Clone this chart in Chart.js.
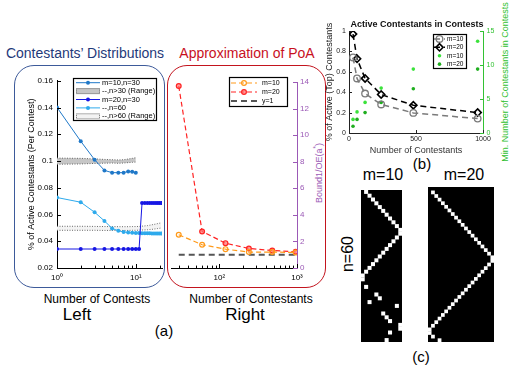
<!DOCTYPE html>
<html>
<head>
<meta charset="utf-8">
<script src="https://cdn.jsdelivr.net/npm/chart.js@4.4.1/dist/chart.umd.min.js"></script>
<style>
  body { margin: 0; background: #fff; }
  #fig { position: relative; width: 510px; height: 368px; overflow: hidden; font-family: "Liberation Sans", Arial, sans-serif; }
  #fig canvas { position: absolute; }
  .txt { position: absolute; white-space: nowrap; line-height: 1; transform: translate(-50%, -50%); }
  .rot { transform: translate(-50%, -50%) rotate(-90deg); }
  .frame { position: absolute; box-sizing: border-box; border: 1.5px solid; border-radius: 20px; }
  sup { font-size: 70%; }
</style>
</head>
<body>
<div id="fig">
  <div class="frame" style="left:14px;top:65px;width:151px;height:223px;border-color:#3d5a9a;"></div>
  <div class="frame" style="left:167px;top:65px;width:159px;height:223px;border-color:#c3141e;"></div>

  <div class="txt" style="left:85px;top:53px;font-size:14px;color:#1f3a7a;">Contestants’ Distributions</div>
  <div class="txt" style="left:247px;top:53px;font-size:14px;color:#c8101e;">Approximation of PoA</div>
  <div class="txt" style="left:97px;top:299px;font-size:12px;">Number of Contests</div>
  <div class="txt" style="left:77px;top:314px;font-size:17px;">Left</div>
  <div class="txt" style="left:164px;top:330px;font-size:15px;">(a)</div>
  <div class="txt" style="left:251px;top:299px;font-size:12px;">Number of Contestants</div>
  <div class="txt" style="left:245px;top:314px;font-size:17px;">Right</div>
  <div class="txt rot" style="left:318px;top:173px;font-size:9px;color:#9b59b6;">Bound1/OE(a<sup>*</sup>)</div>
  <div class="txt rot" style="left:505px;top:82px;font-size:9px;color:#2fbf2f;">Min. Number of Contestants in Contests</div>
  <div class="txt" style="left:422px;top:163px;font-size:15px;">(b)</div>
  <div class="txt" style="left:383px;top:175px;font-size:16px;">m=10</div>
  <div class="txt" style="left:464px;top:175px;font-size:16px;">m=20</div>
  <div class="txt rot" style="left:348px;top:254px;font-size:16px;">n=60</div>
  <div class="txt" style="left:421px;top:356px;font-size:15px;">(c)</div>

  <canvas id="left" width="146" height="216" style="left:20px;top:72px;"></canvas>
  <canvas id="right" width="160" height="216" style="left:166px;top:72px;"></canvas>
  <canvas id="active" width="186" height="148" style="left:324px;top:12px;"></canvas>
  <canvas id="heat10" width="49" height="160" style="left:357px;top:186px;"></canvas>
  <canvas id="heat20" width="74" height="163" style="left:424px;top:183px;"></canvas>
</div>
<script>
// (a) left: share of active contestants per contest
const contests = [1, 2, 3, 4, 5, 6, 7, 8, 9, 10, 11, 12, 13, 14, 15, 16, 17, 18, 19, 20, 21];
const m10n30 = [0.1401, 0.1148, 0.1010, 0.0930, 0.0913, 0.0913, 0.0913, 0.0922, 0.0920, 0.0913];
const n30RangeHi = [0.1022, 0.1020, 0.1016, 0.1012, 0.1010, 0.1008, 0.1010, 0.1015, 0.1020, 0.1025];
const n30RangeLo = [0.0976, 0.0978, 0.0982, 0.0984, 0.0985, 0.0983, 0.0985, 0.0988, 0.0990, 0.0992];
const m20n30 = [0.0342, 0.0342, 0.0342, 0.0342, 0.0342, 0.0342, 0.0342, 0.0342, 0.0342, 0.0342, 0.0342,
                0.0686, 0.0686, 0.0686, 0.0686, 0.0686, 0.0686, 0.0686, 0.0686, 0.0686, 0.0686];
const m10n60 = [0.0727, 0.0692, 0.0617, 0.0552, 0.0496, 0.0478, 0.0470, 0.0465, 0.0463, 0.0462, 0.0461,
                0.0460, 0.0460, 0.0459, 0.0459, 0.0458, 0.0458, 0.0458, 0.0458, 0.0458, 0.0458];
const n60RangeHi = [0.0512, 0.0512, 0.0511, 0.0510, 0.0510, 0.0509, 0.0509, 0.0509, 0.0510, 0.0510, 0.0511,
                    0.0513, 0.0515, 0.0517, 0.0520, 0.0523, 0.0526, 0.0529, 0.0532, 0.0535, 0.0538];
const n60RangeLo = [0.0482, 0.0482, 0.0482, 0.0481, 0.0481, 0.0481, 0.0481, 0.0481, 0.0482, 0.0482, 0.0483,
                    0.0484, 0.0485, 0.0486, 0.0488, 0.0489, 0.0491, 0.0493, 0.0495, 0.0497, 0.0499];
const contestTicks = [1, 2, 3, 4, 5, 6, 7, 8, 9, 10, 20];
const shareTicks = [0.02, 0.04, 0.06, 0.08, 0.1, 0.12, 0.14, 0.16];

// (a) right: Bound1 / OE(a*)
const contestants = [30, 60, 120, 240, 480, 960];
const boundM10 = [2.5, 1.75, 1.42, 1.2, 1.2, 1.17];
const boundM20 = [13.7, 2.75, 1.87, 1.47, 1.32, 1.22];
const boundRef = [1, 1, 1, 1, 1, 1];
const contestantTicks = [30, 40, 50, 60, 70, 80, 90, 100, 200, 300, 400, 500, 600, 700, 800, 900, 1000];
const boundTicks = [0, 2, 4, 6, 8, 10, 12, 14];

// (b) active contestants in contests
const activeM10 = [0.74, 0.535, 0.387, 0.28, 0.197, 0.141];
const activeM20 = [0.97, 0.728, 0.535, 0.377, 0.272, 0.2];
const minM10 = [2, 3.1, 4.5, 6.6, 9.4, 13.5];
const minM20 = [1, 2, 3, 4.5, 6.5, 9.4];
const activeTicks = [0, 0.2, 0.4, 0.6, 0.8, 1];
const minTicks = [0, 5, 10, 15];
const sizeTicks = [0, 500, 1000];

// (c) activity patterns, [column, row] of the white cells
const heatM10 = [[1,0],[2,1],[3,2],[4,3],[5,4],[6,5],[7,6],[8,7],[9,8],[10,9],[11,10],[11,11],
  [10,12],[9,13],[8,14],[7,15],[6,16],[5,17],[4,18],[3,19],[2,20],[1,21],[0,22],[0,23],
  [1,25],[4,27],[5,28],[2,29],[10,30],[6,32],[7,33],[8,34],[11,35],[11,36],[8,37],[7,39]];
const heatM20 = [[1,1],[2,2],[3,3],[4,4],[5,5],[6,6],[7,7],[8,8],[9,9],[10,10],[11,11],[12,12],
  [13,13],[14,14],[15,15],[16,16],[17,17],[18,18],[19,19],[19,20],[18,21],[17,22],[16,23],[15,24],
  [14,25],[13,26],[12,27],[11,28],[10,29],[9,30],[8,31],[7,32],[6,33],[5,34],[4,35],[3,36],[2,37],
  [1,38],[0,39],[0,40],[1,41],[3,42]];

Chart.defaults.font.family = '"Liberation Sans", Arial, sans-serif';
Chart.defaults.color = '#000';

const pt = (xs, ys) => ys.map((y, i) => ({ x: xs[i], y: y }));

// matlab style ticks pointing into the plot
const inTicks = {
  id: 'inTicks',
  afterDraw(chart, args, opts) {
    const ctx = chart.ctx;
    Object.values(chart.scales).forEach(s => {
      const o = opts[s.id];
      if (!o) return;
      ctx.save();
      ctx.strokeStyle = o.color;
      ctx.lineWidth = 1;
      s.ticks.forEach(t => {
        const len = (s.type === 'logarithmic' && !t.label) ? o.len * 0.6 : o.len;
        const p = Math.round(s.getPixelForValue(t.value)) + 0.5;
        ctx.beginPath();
        if (s.isHorizontal()) { ctx.moveTo(p, s.top); ctx.lineTo(p, s.top - len); }
        else if (s.position === 'left') { ctx.moveTo(s.right, p); ctx.lineTo(s.right + len, p); }
        else { ctx.moveTo(s.left, p); ctx.lineTo(s.left - len, p); }
        ctx.stroke();
      });
      ctx.restore();
    });
  }
};

// boxed legend sitting inside the plot
const boxLegend = {
  id: 'boxLegend',
  afterDraw(chart, args, o) {
    if (!o.items) return;
    const ctx = chart.ctx;
    ctx.save();
    ctx.fillStyle = '#fff';
    ctx.fillRect(o.left, o.top, o.width, o.height);
    ctx.strokeStyle = '#000';
    ctx.lineWidth = 1.2;
    ctx.strokeRect(o.left + 0.5, o.top + 0.5, o.width - 1, o.height - 1);
    ctx.font = o.font;
    ctx.textBaseline = 'middle';
    ctx.textAlign = 'left';
    o.items.forEach((it, i) => {
      const ds = chart.data.datasets[it.ds];
      const y = o.top + o.pad + o.rowH * (i + 0.5);
      const x0 = o.left + o.lineX0, x1 = o.left + o.lineX1;
      ctx.setLineDash([]);
      if (it.box) {
        ctx.fillStyle = ds.backgroundColor;
        ctx.fillRect(x0, y - 3, x1 - x0, 6);
        ctx.strokeStyle = ds.borderColor;
        ctx.lineWidth = 1;
        ctx.setLineDash([1, 1]);
        ctx.strokeRect(x0 + 0.5, y - 2.5, x1 - x0 - 1, 5);
        ctx.setLineDash([]);
      } else {
        if (ds.showLine !== false) {
          ctx.strokeStyle = ds.borderColor;
          ctx.lineWidth = ds.borderWidth;
          ctx.setLineDash(ds.borderDash || []);
          ctx.beginPath(); ctx.moveTo(x0, y); ctx.lineTo(x1, y); ctx.stroke();
          ctx.setLineDash([]);
        }
        if (ds.pointRadius) {
          ctx.fillStyle = ds.pointBackgroundColor;
          ctx.strokeStyle = ds.pointBorderColor;
          ctx.lineWidth = ds.pointBorderWidth;
          Chart.helpers.drawPoint(ctx, { pointStyle: ds.pointStyle, rotation: 0, radius: ds.pointRadius,
            borderWidth: ds.pointBorderWidth }, (x0 + x1) / 2, y);
        }
      }
      ctx.fillStyle = o.color;
      ctx.fillText(ds.label, o.left + o.textX, y);
    });
    ctx.restore();
  }
};

const cellBg = {
  id: 'cellBg',
  beforeDraw(chart, args, o) {
    if (!o.color) return;
    const a = chart.chartArea;
    chart.ctx.fillStyle = o.color;
    chart.ctx.fillRect(a.left, a.top, a.width, a.height);
  }
};

Chart.register(inTicks, boxLegend, cellBg);

const ticksOf = arr => s => { s.ticks = arr.map(v => ({ value: v })); };
const fmt = v => String(+(+v).toFixed(2));
const sup = { 1: '10⁰', 10: '10¹', 100: '10²', 1000: '10³' };

const dot = c => ({ borderColor: c, borderWidth: 1, pointRadius: 2, pointStyle: 'circle',
  pointBackgroundColor: c, pointBorderColor: c, pointBorderWidth: 0, fill: false });
const rangeLine = (fillTo, bg) => ({ borderColor: '#6a6a6a', borderWidth: 1, borderDash: [1, 1.5],
  pointRadius: 0, fill: fillTo, backgroundColor: bg });

new Chart(document.getElementById('left'), {
  type: 'line',
  data: {
    datasets: [
      Object.assign({ label: 'm=10,n=30', data: pt(contests, m10n30) }, dot('#1f78c8')),
      Object.assign({ label: 'm=20,n=30', data: pt(contests, m20n30) }, dot('#1616e4')),
      Object.assign({ label: '--,n=60', data: pt(contests, m10n60) }, dot('#2eaaec')),
      Object.assign({ label: 'n>30 low', data: pt(contests, n30RangeLo) }, rangeLine(false, '#c6c6c6')),
      Object.assign({ label: '--,n>30 (Range)', data: pt(contests, n30RangeHi) }, rangeLine('-1', '#c6c6c6')),
      Object.assign({ label: 'n>60 low', data: pt(contests, n60RangeLo) }, rangeLine(false, '#f3f3f3')),
      Object.assign({ label: '--,n>60 (Range)', data: pt(contests, n60RangeHi) }, rangeLine('-1', '#f3f3f3'))
    ]
  },
  options: {
    responsive: false, animation: false, events: [],
    layout: { padding: { top: 8, right: 2, left: 0, bottom: 0 } },
    plugins: {
      legend: { display: false }, tooltip: { enabled: false },
      inTicks: { x: { len: 4, color: '#000' }, y: { len: 4, color: '#000' } },
      boxLegend: {
        left: 53, top: 6, width: 84, height: 43, pad: 0.5, rowH: 8.4,
        lineX0: 3, lineX1: 27, textX: 29, font: '7.5px "Liberation Sans", Arial', color: '#000',
        items: [{ ds: 0 }, { ds: 4, box: true }, { ds: 1 }, { ds: 2 }, { ds: 6, box: true }]
      }
    },
    scales: {
      x: {
        type: 'logarithmic', min: 1, max: 21.5,
        afterBuildTicks: ticksOf(contestTicks), afterFit: s => { s.height = 20; },
        grid: { display: false, drawTicks: false }, border: { color: '#000' },
        ticks: { callback: v => sup[v] || '', font: { size: 8 }, padding: 5, maxRotation: 0, autoSkip: false }
      },
      y: {
        min: 0.02, max: 0.16,
        afterBuildTicks: ticksOf(shareTicks), afterFit: s => { s.width = 37; },
        grid: { display: false, drawTicks: false }, border: { color: '#000' },
        ticks: { callback: fmt, font: { size: 8 }, padding: 4 },
        title: { display: true, text: '% of Active Contestants (Per Contest)', font: { size: 9 },
          padding: { top: 6.4, bottom: 0 } }
      }
    }
  }
});

new Chart(document.getElementById('right'), {
  type: 'line',
  data: {
    datasets: [
      { label: 'm=10', data: pt(contestants, boundM10), borderColor: '#ff9a1a', borderWidth: 1.2,
        borderDash: [5, 3], pointStyle: 'circle', pointRadius: 2.4, pointBackgroundColor: 'rgba(255,255,255,0)',
        pointBorderColor: '#ff9a1a', pointBorderWidth: 1.2, fill: false },
      { label: 'm=20', data: pt(contestants, boundM20), borderColor: '#ff2424', borderWidth: 1.2,
        borderDash: [5, 3], pointStyle: 'circle', pointRadius: 2.4, pointBackgroundColor: 'rgba(255,110,110,0.7)',
        pointBorderColor: '#ff2424', pointBorderWidth: 1.2, fill: false },
      { label: 'y=1', data: pt(contestants, boundRef), borderColor: '#555', borderWidth: 2,
        borderDash: [6, 4], pointRadius: 0, fill: false }
    ]
  },
  options: {
    responsive: false, animation: false, events: [],
    layout: { padding: { top: 10, right: 0, left: 1, bottom: 0 } },
    plugins: {
      legend: { display: false }, tooltip: { enabled: false },
      inTicks: { x: { len: 4, color: '#000' }, y: { len: 4, color: '#9b59b6' } },
      boxLegend: {
        left: 63, top: 5, width: 59, height: 30, pad: 1.5, rowH: 9,
        lineX0: 2, lineX1: 28, textX: 33, font: '7px "Liberation Sans", Arial', color: '#000',
        items: [{ ds: 0 }, { ds: 1 }, { ds: 2 }]
      }
    },
    scales: {
      x: {
        type: 'logarithmic', min: 24, max: 1000,
        afterBuildTicks: ticksOf(contestantTicks), afterFit: s => { s.height = 20; },
        grid: { display: false, drawTicks: false }, border: { color: '#000' },
        ticks: { callback: v => sup[v] || '', font: { size: 8 }, padding: 5, maxRotation: 0, autoSkip: false }
      },
      y: {
        position: 'right', min: 0, max: 14,
        afterBuildTicks: ticksOf(boundTicks), afterFit: s => { s.width = 29; },
        grid: { display: false, drawTicks: false }, border: { color: '#9b59b6' },
        ticks: { color: '#9b59b6', font: { size: 8 }, padding: 3 }
      }
    }
  }
});

new Chart(document.getElementById('active'), {
  type: 'line',
  data: {
    datasets: [
      { label: 'm=10', data: pt(contestants, activeM10), yAxisID: 'y', borderColor: '#7a7a7a', borderWidth: 1.5,
        borderDash: [6, 4], pointStyle: 'circle', pointRadius: 3.3, pointBackgroundColor: 'rgba(255,255,255,0)',
        pointBorderColor: '#7a7a7a', pointBorderWidth: 1.3, fill: false },
      { label: 'm=20', data: pt(contestants, activeM20), yAxisID: 'y', borderColor: '#000', borderWidth: 1.5,
        borderDash: [6, 4], pointStyle: 'rectRot', pointRadius: 3.6, pointBackgroundColor: 'rgba(255,255,255,0)',
        pointBorderColor: '#000', pointBorderWidth: 1.6, fill: false },
      { label: 'm=10', data: pt(contestants, minM10), yAxisID: 'y2', showLine: false, pointStyle: 'circle',
        pointRadius: 1.8, pointBackgroundColor: '#3be23b', pointBorderColor: '#3be23b', pointBorderWidth: 0 },
      { label: 'm=20', data: pt(contestants, minM20), yAxisID: 'y2', showLine: false, pointStyle: 'circle',
        pointRadius: 1.8, pointBackgroundColor: '#1fae1f', pointBorderColor: '#1fae1f', pointBorderWidth: 0 }
    ]
  },
  options: {
    responsive: false, animation: false, events: [],
    layout: { padding: 0 },
    plugins: {
      legend: { display: false }, tooltip: { enabled: false },
      title: { display: true, text: 'Active Contestants in Contests', color: '#111',
        font: { size: 9, weight: 'bold' }, padding: { top: 7, bottom: 1.2 } },
      inTicks: { x: { len: 3, color: '#222' }, y: { len: 3, color: '#222' }, y2: { len: 3, color: '#33c233' } },
      boxLegend: {
        left: 109, top: 22, width: 34, height: 35, pad: 0.75, rowH: 8.4,
        lineX0: 1, lineX1: 12, textX: 14, font: '6.5px "Liberation Sans", Arial', color: '#000',
        items: [{ ds: 0 }, { ds: 1 }, { ds: 2 }, { ds: 3 }]
      }
    },
    scales: {
      x: {
        type: 'linear', min: 0, max: 1000,
        afterBuildTicks: ticksOf(sizeTicks), afterFit: s => { s.height = 27; },
        grid: { display: false, drawTicks: false }, border: { color: '#222' },
        ticks: { callback: v => String(v), font: { size: 7 }, color: '#222', padding: 2, maxRotation: 0 },
        title: { display: true, text: 'Number of Contestants', color: '#333', font: { size: 9 },
          padding: { top: 0, bottom: 3.6 } }
      },
      y: {
        position: 'left', min: 0, max: 1,
        afterBuildTicks: ticksOf(activeTicks), afterFit: s => { s.width = 25; },
        grid: { display: false, drawTicks: false }, border: { color: '#222' },
        ticks: { callback: fmt, font: { size: 7 }, color: '#222', padding: 3 },
        title: { display: true, text: '% of Active (Top) Contestants', color: '#222', font: { size: 9 },
          padding: { top: 0.6, bottom: 0 } }
      },
      y2: {
        position: 'right', min: 0, max: 15,
        afterBuildTicks: ticksOf(minTicks), afterFit: s => { s.width = 27; },
        grid: { display: false, drawTicks: false }, border: { color: '#33c233' },
        ticks: { font: { size: 7 }, color: '#33c233', padding: 3.5 }
      }
    }
  }
});

function heatChart(id, cells, cols, rows, r) {
  new Chart(document.getElementById(id), {
    type: 'scatter',
    data: { datasets: [{ data: cells.map(c => ({ x: c[0], y: c[1] })), pointStyle: 'rect', pointRadius: r,
      pointBackgroundColor: '#fff', pointBorderWidth: 0, showLine: false }] },
    options: {
      responsive: false, animation: false, events: [],
      layout: { padding: 0 },
      plugins: { legend: { display: false }, tooltip: { enabled: false }, cellBg: { color: '#000' } },
      scales: {
        x: { display: false, min: -0.5, max: cols - 0.5 },
        y: { display: false, reverse: true, min: -0.5, max: rows - 0.5 }
      }
    }
  });
}
heatChart('heat10', heatM10, 12, 40, 2.85);
heatChart('heat20', heatM20, 20, 43, 2.65);
</script>
</body>
</html>
